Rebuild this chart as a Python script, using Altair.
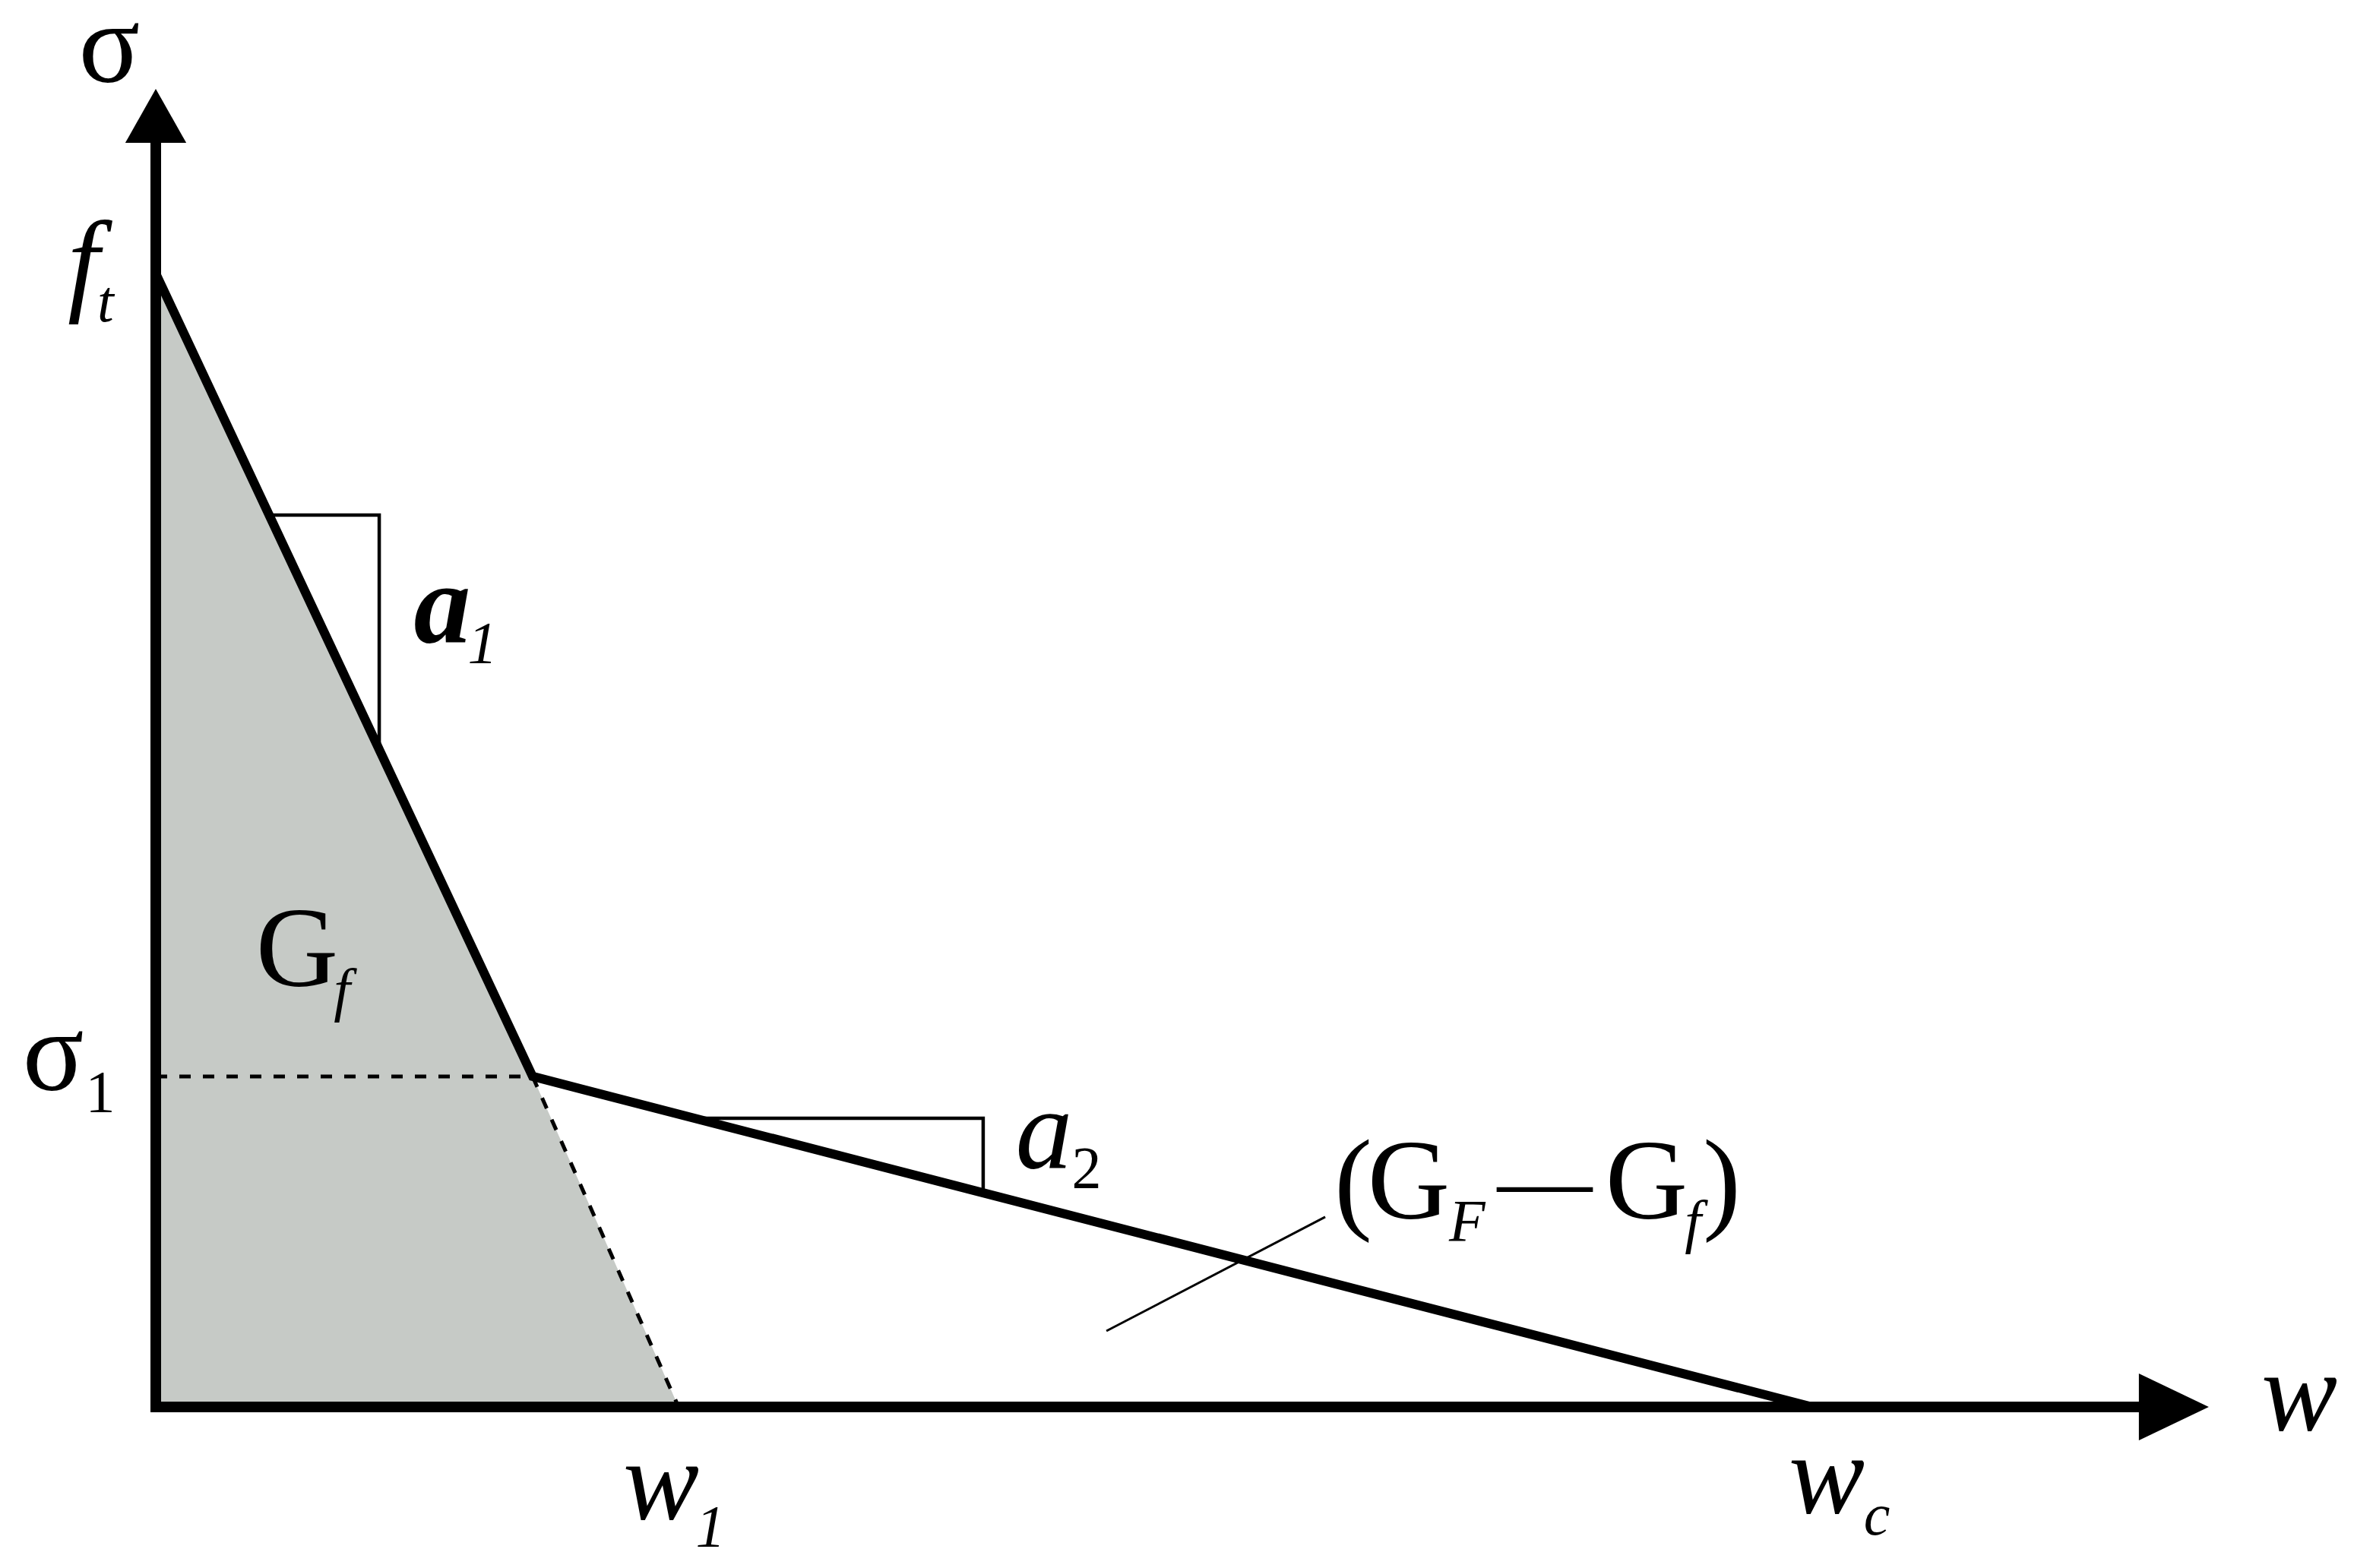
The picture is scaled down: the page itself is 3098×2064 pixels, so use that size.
import altair as alt
import pandas as pd

# ---- key values of the bilinear softening law (normalised: f_t = 1, w_c = 1)
ft = 1.0
sigma1 = 0.2916
w_kink = 0.2275
w1 = 0.3156
wc = 1.0

curve_w = [0.0, w_kink, wc]
curve_s = [ft, sigma1, 0.0]

gf_w = [0.0, w_kink, w1]
gf_s = [ft, sigma1, 0.0]

# axes (arrows)
x_axis_end = 1.1972
x_arrow_tip = 1.2394
y_axis_end = 1.1153
y_arrow_tip = 1.1629
arrow_half_w = 0.0184
arrow_half_s = 0.0295

# slope triangles
tri1_w = [0.0684, 0.1349, 0.1349]
tri1_s = [0.7869, 0.7869, 0.5800]
tri2_w = [0.3252, 0.4995, 0.4995]
tri2_s = [0.2547, 0.2547, 0.1889]

# leader line for (G_F - G_f)
leader_w = [0.5739, 0.7060]
leader_s = [0.0670, 0.1676]

# labels: text, w, sigma, size, style, weight
lab_text = ["σ", "f", "t", "σ", "1", "G", "f", "a", "1", "a", "2",
            "(", "G", "F", "—", "G", "f", ")", "w", "w", "1", "w", "c"]
lab_w = [-0.0280, -0.0436, -0.0303, -0.0619, -0.0335, 0.0853, 0.1124, 0.1729, 0.1972, 0.5362, 0.5619,
         0.7229, 0.7564, 0.7917, 0.8385, 0.9000, 0.9280, 0.9454, 1.2940, 0.3050, 0.3349, 1.0087, 1.0390]
lab_s = [1.1689, 0.9765, 0.9578, 0.2795, 0.2607, 0.3713, 0.3505, 0.6749, 0.6568, 0.2111, 0.1937,
         0.1662, 0.1662, 0.1468, 0.1722, 0.1662, 0.1461, 0.1662, -0.0208, -0.0992, -0.1226, -0.0938, -0.1126]
lab_size = [150, 150, 78, 150, 78, 150, 78, 150, 78, 150, 78,
            150, 150, 78, 125, 150, 78, 150, 150, 150, 78, 150, 78]
lab_style = ["normal", "italic", "italic", "normal", "normal", "normal", "italic", "italic", "italic", "italic", "normal",
             "normal", "normal", "italic", "normal", "normal", "italic", "normal", "italic", "italic", "italic", "italic", "italic"]
lab_weight = ["normal"] * 7 + ["bold"] + ["normal"] * 15

XDOM = [-0.09037, 1.32339]
YDOM = [-0.13673, 1.23592]
W, H = 3082, 2048
FONT = "'Liberation Serif', 'Times New Roman', Times, serif"

xs = alt.Scale(domain=XDOM, nice=False, zero=False)
ys = alt.Scale(domain=YDOM, nice=False, zero=False)


def X(field="w"):
    return alt.X(f"{field}:Q", scale=xs, axis=None)


def Y(field="s"):
    return alt.Y(f"{field}:Q", scale=ys, axis=None)


# shaded G_f region
gf_df = pd.DataFrame({"w": gf_w, "s": gf_s, "s0": [0.0] * 3})
gf_area = alt.Chart(gf_df).mark_area(color="#c6cac6", opacity=1, interpolate="linear").encode(
    x=X(), y=Y(), y2="s0:Q"
)

# dashed helper lines
dash_df = pd.DataFrame({
    "w": [0.0, w_kink, w_kink, w1],
    "s": [sigma1, sigma1, sigma1, 0.0],
    "seg": ["h", "h", "d", "d"],
    "o": [0, 1, 0, 1],
})
dashed = alt.Chart(dash_df).mark_line(color="black", strokeWidth=5, strokeDash=[15, 16],
                                      interpolate="linear").encode(
    x=X(), y=Y(), detail="seg:N", order="o:Q"
)

# thin lines: slope triangles
thin_rows = []
for i in range(3):
    thin_rows.append({"w": tri1_w[i], "s": tri1_s[i], "seg": "t1", "o": i})
    thin_rows.append({"w": tri2_w[i], "s": tri2_s[i], "seg": "t2", "o": i})
thin_df = pd.DataFrame(thin_rows)
thin = alt.Chart(thin_df).mark_line(color="black", strokeWidth=4.5, strokeJoin="miter").encode(
    x=X(), y=Y(), detail="seg:N", order="o:Q"
)
leader_df = pd.DataFrame({"w": leader_w, "s": leader_s, "o": [0, 1]})
leader = alt.Chart(leader_df).mark_line(color="black", strokeWidth=3).encode(
    x=X(), y=Y(), order="o:Q"
)

# softening curve
curve_df = pd.DataFrame({"w": curve_w, "s": curve_s, "o": [0, 1, 2]})
curve = alt.Chart(curve_df).mark_line(color="black", strokeWidth=12, strokeJoin="miter").encode(
    x=X(), y=Y(), order="o:Q"
)

# axes
axes_df = pd.DataFrame({
    "w": [0.0, x_axis_end, 0.0, 0.0],
    "s": [0.0, 0.0, 0.0, y_axis_end],
    "seg": ["x", "x", "y", "y"],
    "o": [0, 1, 0, 1],
})
axes = alt.Chart(axes_df).mark_line(color="black", strokeWidth=14, strokeCap="square").encode(
    x=X(), y=Y(), detail="seg:N", order="o:Q"
)

# arrowheads
yhead_df = pd.DataFrame({
    "w": [-arrow_half_w, 0.0, arrow_half_w],
    "s": [y_axis_end, y_arrow_tip, y_axis_end],
    "b": [y_axis_end] * 3,
})
yhead = alt.Chart(yhead_df).mark_area(color="black", interpolate="linear").encode(
    x=X(), y=Y(), y2="b:Q"
)
xhead_df = pd.DataFrame({
    "s": [-arrow_half_s, 0.0, arrow_half_s],
    "w": [x_axis_end, x_arrow_tip, x_axis_end],
    "b": [x_axis_end] * 3,
})
xhead = alt.Chart(xhead_df).mark_area(color="black", interpolate="linear", orient="horizontal").encode(
    y=Y(), x=X(), x2="b:Q"
)

# labels
lab_df = pd.DataFrame({
    "text": lab_text, "w": lab_w, "s": lab_s, "size": lab_size,
    "style": lab_style, "weight": lab_weight,
})
text_layers = []
for (st, wt), sub in lab_df.groupby(["style", "weight"]):
    text_layers.append(
        alt.Chart(sub).mark_text(
            font=FONT, fontStyle=st, fontWeight=wt, align="center", baseline="alphabetic", color="black"
        ).encode(
            x=X(), y=Y(), text="text:N", size=alt.Size("size:Q", scale=None, legend=None)
        )
    )

chart = alt.layer(
    gf_area, dashed, thin, leader, curve, axes, yhead, xhead, *text_layers
).properties(
    width=W, height=H, padding=0, autosize=alt.AutoSizeParams(type="none"),
    background="white",
).configure_view(stroke=None)

chart.save("out.html", embed_options={"renderer": "svg", "actions": False})
